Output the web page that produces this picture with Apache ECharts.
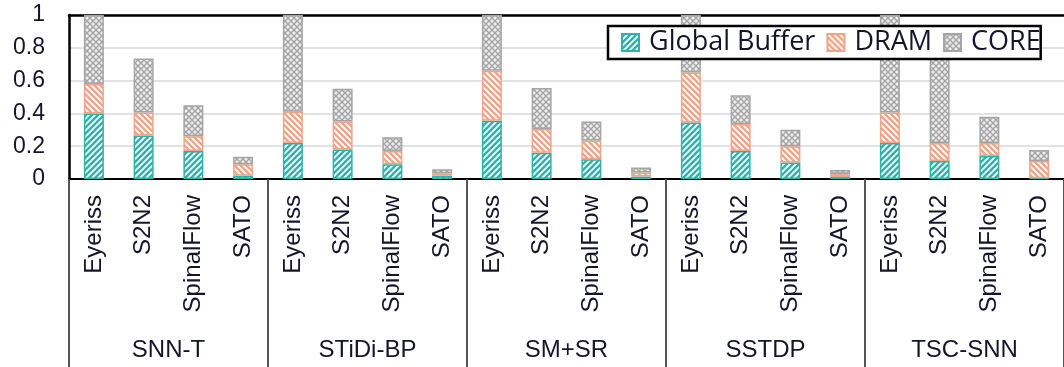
<!DOCTYPE html>
<html>
<head>
<meta charset="utf-8">
<script src="https://cdn.jsdelivr.net/npm/echarts@6/dist/echarts.min.js"></script>
<style>
html,body{margin:0;padding:0;background:#fff;}
#chart{width:1064px;height:367px;}
</style>
</head>
<body>
<div id="chart"></div>
<script>
// ---- data ----
var groups = ['SNN-T', 'STiDi-BP', 'SM+SR', 'SSTDP', 'TSC-SNN'];
var platforms = ['Eyeriss', 'S2N2', 'SpinalFlow', 'SATO'];
var yTicks = [0, 0.2, 0.4, 0.6, 0.8, 1];
var globalBuffer = [0.40, 0.265, 0.17, 0.02,   0.22, 0.18, 0.09, 0.02,   0.355, 0.16, 0.12, 0.015,   0.345, 0.17, 0.10, 0.012,   0.22, 0.11, 0.14, 0.005];
var dram         = [0.18, 0.14, 0.09, 0.07,    0.19, 0.17, 0.08, 0.015,  0.305, 0.145, 0.115, 0.025, 0.305, 0.165, 0.10, 0.018,  0.185, 0.11, 0.08, 0.105];
var core         = [0.42, 0.33, 0.19, 0.045,   0.59, 0.20, 0.085, 0.025, 0.34, 0.25, 0.115, 0.03,    0.35, 0.175, 0.10, 0.025,   0.595, 0.54, 0.16, 0.067];

var categories = [];
groups.forEach(function(){ platforms.forEach(function(p){ categories.push(p); }); });

// ---- patterns ----
function stripe(bg, fg, dir){
  var s = 6, c = document.createElement('canvas');
  c.width = s; c.height = s;
  var g = c.getContext('2d');
  g.fillStyle = bg; g.fillRect(0,0,s,s);
  g.strokeStyle = fg; g.lineWidth = 1.8;
  g.beginPath();
  if (dir > 0) {
    g.moveTo(-1, 1); g.lineTo(1, -1);
    g.moveTo(0, s); g.lineTo(s, 0);
    g.moveTo(s-1, s+1); g.lineTo(s+1, s-1);
  } else {
    g.moveTo(s-1, -1); g.lineTo(s+1, 1);
    g.moveTo(0, 0); g.lineTo(s, s);
    g.moveTo(-1, s-1); g.lineTo(1, s+1);
  }
  g.stroke();
  return {image: c, repeat: 'repeat'};
}
function cross(){
  var s = 6, c = document.createElement('canvas');
  c.width = s; c.height = s;
  var g = c.getContext('2d');
  g.fillStyle = '#eeeeee'; g.fillRect(0,0,s,s);
  g.strokeStyle = '#a5a5a5'; g.lineWidth = 1.4;
  g.beginPath();
  g.moveTo(0, s); g.lineTo(s, 0);
  g.moveTo(0, 0); g.lineTo(s, s);
  g.stroke();
  return {image: c, repeat: 'repeat'};
}

var teal = '#2db4aa', salmon = '#f0a488', grey = '#a5a5a5';
var txt = '#14142a';
var font = 'Liberation Sans';

var chart = echarts.init(document.getElementById('chart'), null, {renderer: 'canvas'});
chart.setOption({
  animation: false,
  backgroundColor: '#fff',
  grid: {left: 69, top: 15, width: 1000, height: 164, containLabel: false},
  legend: {
    left: 608, top: 26,
    padding: [3, 0, 3, 13],
    backgroundColor: '#fff',
    borderColor: '#000', borderWidth: 2.5,
    itemWidth: 17, itemHeight: 17, itemGap: 11,
    icon: 'rect',
    textStyle: {fontSize: 27, fontFamily: 'Open Sans', color: txt, padding: [0,0,0,5]},
    data: ['Global Buffer', 'DRAM', 'CORE']
  },
  xAxis: [
    {
      type: 'category', data: categories, position: 'bottom',
      axisLine: {show: true, lineStyle: {color: '#000', width: 2}},
      axisTick: {show: false},
      axisLabel: {interval: 0, rotate: 90, margin: 16, fontSize: 24, fontFamily: font, color: txt}
    },
    {
      type: 'category', data: groups, position: 'bottom',
      axisLine: {show: false},
      axisTick: {show: true, interval: 0, length: 190, lineStyle: {color: '#555', width: 2}},
      axisLabel: {interval: 0, margin: 159, fontSize: 24, fontFamily: font, color: txt}
    },
    {
      type: 'category', data: categories, position: 'top',
      axisLine: {show: true, lineStyle: {color: '#000', width: 2.5}},
      axisTick: {show: false}, axisLabel: {show: false}
    }
  ],
  yAxis: {
    type: 'value', min: yTicks[0], max: yTicks[yTicks.length-1], interval: 0.2,
    axisLine: {show: true, lineStyle: {color: '#000', width: 2.5}},
    axisTick: {show: false},
    splitLine: {show: true, lineStyle: {color: '#e2e2e2', width: 2}},
    axisLabel: {margin: 24, fontSize: 23, fontFamily: font, color: txt,
      formatter: function(v){ return String(+v.toFixed(1)); }}
  },
  series: [
    {name: 'Global Buffer', type: 'bar', stack: 's', barWidth: 20, data: globalBuffer,
     itemStyle: {color: stripe(teal, '#ffffff', 1), borderColor: teal, borderWidth: 1.5}},
    {name: 'DRAM', type: 'bar', stack: 's', barWidth: 20, data: dram,
     itemStyle: {color: stripe(salmon, '#ffffff', -1), borderColor: salmon, borderWidth: 1.5}},
    {name: 'CORE', type: 'bar', stack: 's', barWidth: 20, data: core,
     itemStyle: {color: cross(), borderColor: grey, borderWidth: 1.5}}
  ]
});
</script>
</body>
</html>
